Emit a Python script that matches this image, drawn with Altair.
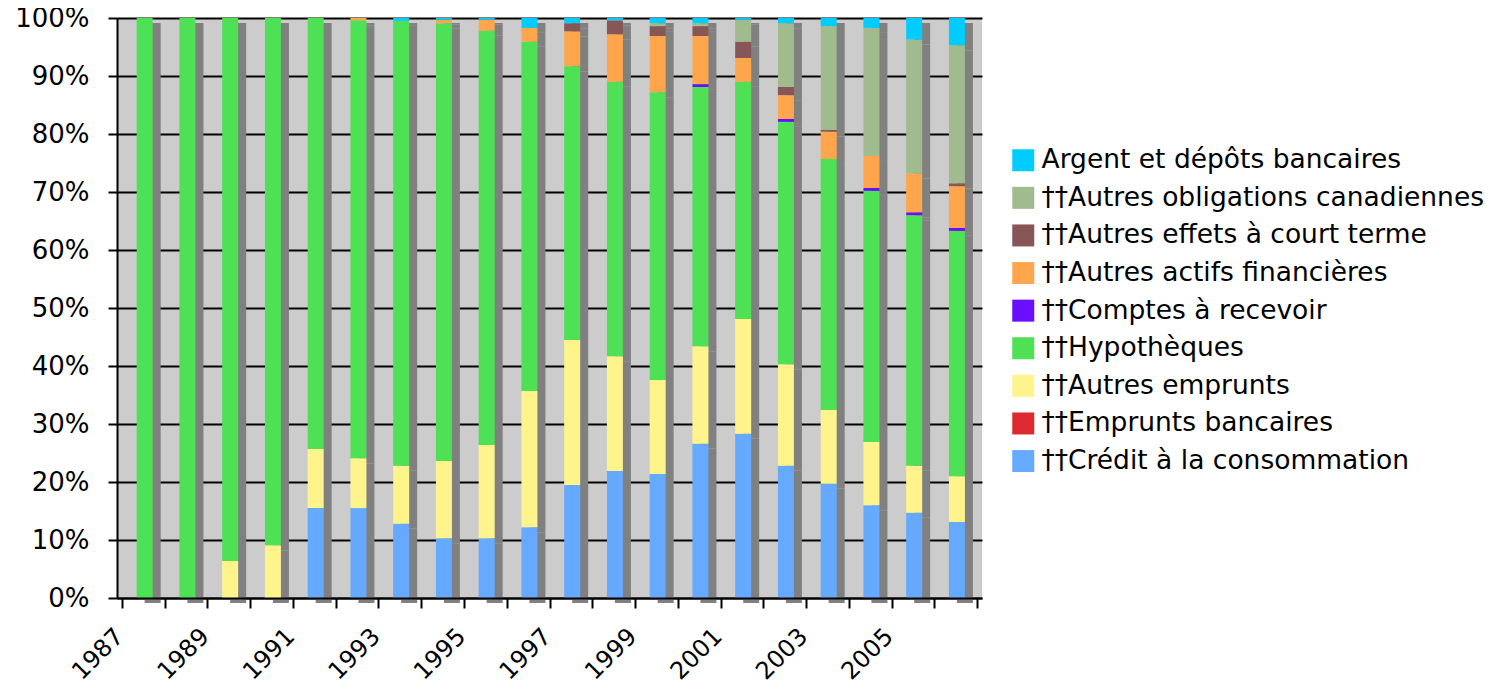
import altair as alt
import pandas as pd

years = list(range(1987, 2007))

# stacking order: bottom -> top
series_names = [
    "\u2020\u2020Crédit à la consommation",
    "\u2020\u2020Emprunts bancaires",
    "\u2020\u2020Autres emprunts",
    "\u2020\u2020Hypothèques",
    "\u2020\u2020Comptes à recevoir",
    "\u2020\u2020Autres actifs financières",
    "\u2020\u2020Autres effets à court terme",
    "\u2020\u2020Autres obligations canadiennes",
    "Argent et dépôts bancaires",
]
series_colors = [
    "#66aaff", "#dd2a31", "#fff48c", "#4ee155", "#6a0eff",
    "#ffa64d", "#875656", "#a0bb8e", "#00ccff",
]

credit = [0, 0, 0, 0, 15.5, 15.5, 12.8, 10.3, 10.3, 12.2, 19.5, 21.9, 21.4, 26.6, 28.3, 22.8, 19.7, 16.0, 14.7, 13.1]
emprunts_bancaires = [0, 0, 0, 0, 0, 0, 0, 0, 0, 0, 0, 0, 0, 0, 0, 0, 0, 0, 0, 0]
autres_emprunts = [0, 0, 6.4, 9.1, 10.2, 8.6, 10.0, 13.3, 16.1, 23.5, 25.0, 19.8, 16.2, 16.8, 19.8, 17.5, 12.7, 10.9, 8.1, 7.9]
hypotheques = [100, 100, 93.6, 90.9, 74.3, 75.5, 76.7, 75.5, 71.4, 60.2, 47.2, 47.3, 49.6, 44.7, 40.9, 41.8, 43.3, 43.3, 43.2, 42.3]
comptes = [0, 0, 0, 0, 0, 0, 0, 0, 0, 0, 0, 0, 0, 0.5, 0, 0.5, 0, 0.5, 0.5, 0.5]
actifs = [0, 0, 0, 0, 0, 0.4, 0, 0.6, 1.9, 2.4, 6.0, 8.2, 9.7, 8.3, 4.1, 4.1, 4.7, 5.5, 6.7, 7.2]
effets = [0, 0, 0, 0, 0, 0, 0, 0, 0, 0, 1.4, 2.4, 1.7, 1.7, 2.8, 1.4, 0.3, 0, 0, 0.5]
obligations = [0, 0, 0, 0, 0, 0, 0, 0, 0, 0, 0, 0, 0.5, 0.5, 3.8, 11.0, 17.9, 22.1, 23.1, 23.8]
argent = [0, 0, 0, 0, 0, 0, 0.5, 0.3, 0.3, 1.7, 0.9, 0.4, 0.9, 0.9, 0.3, 0.9, 1.4, 1.7, 3.7, 4.7]

all_series = [credit, emprunts_bancaires, autres_emprunts, hypotheques, comptes,
              actifs, effets, obligations, argent]

rows = []
for idx, (name, vals) in enumerate(zip(series_names, all_series)):
    for y, v in zip(years, vals):
        rows.append({"year": y, "series": name, "value": v, "idx": idx})
df = pd.DataFrame(rows)

legend_order = list(reversed(series_names))
legend_colors = list(reversed(series_colors))

x_enc = alt.X(
    "xc:Q",
    scale=alt.Scale(domain=[1987, 2007], nice=False, zero=False),
    axis=alt.Axis(
        values=list(range(1987, 2008)),
        labelExpr="(datum.value % 2 == 1 && datum.value < 2007) ? '' + datum.value : ''",
        labelAngle=-45,
        labelAlign="right",
        labelBaseline="top",
        labelFontSize=24,
        labelPadding=16,
        labelOffset=-11,
        tickSize=10,
        tickWidth=2,
        tickColor="black",
        domainColor="black",
        domainWidth=2,
        grid=False,
        zindex=1,
        labelColor="black",
        labelOverlap=False,
    ),
    title=None,
)
y_enc = alt.Y(
    "value:Q",
    stack="normalize",
    scale=alt.Scale(domain=[0, 1], nice=False),
    axis=alt.Axis(
        values=[i / 10 for i in range(11)],
        format=".0%",
        labelFontSize=26,
        labelPadding=19,
        tickSize=9,
        tickWidth=2,
        tickColor="black",
        domainColor="black",
        domainWidth=2,
        grid=True,
        gridColor="black",
        gridWidth=2,
        gridOpacity=1,
        labelColor="black",
    ),
    title=None,
)

base = alt.Chart(df).transform_calculate(xc="datum.year + 0.5")

shadow = base.mark_bar(color="#808080", width=16, xOffset=9.3, yOffset=5).encode(
    x=x_enc,
    y=y_enc,
    order=alt.Order("idx:Q", sort="ascending"),
)

bars = base.mark_bar(width=16, xOffset=1.3).encode(
    x=x_enc,
    y=y_enc,
    color=alt.Color(
        "series:N",
        scale=alt.Scale(domain=legend_order, range=legend_colors),
        legend=alt.Legend(
            title=None,
            orient="none",
            legendX=893,
            legendY=129,
            symbolType="square",
            symbolSize=484,
            symbolStrokeWidth=0,
            labelFontSize=26.5,
            labelColor="black",
            rowPadding=10.6,
            labelOffset=5,
            padding=0,
            labelLimit=700,
        ),
    ),
    order=alt.Order("idx:Q", sort="ascending"),
)

chart = (
    alt.layer(shadow, bars)
    .properties(
        width=865,
        height=580,
        autosize=alt.AutoSizeParams(type="none"),
        padding={"left": 109, "top": 10, "right": 509, "bottom": 90},
    )
    .configure(font="DejaVu Sans")
    .configure_view(fill="#cccccc", strokeWidth=0)
)

chart.save("out.html", embed_options={"renderer": "svg", "actions": False})
